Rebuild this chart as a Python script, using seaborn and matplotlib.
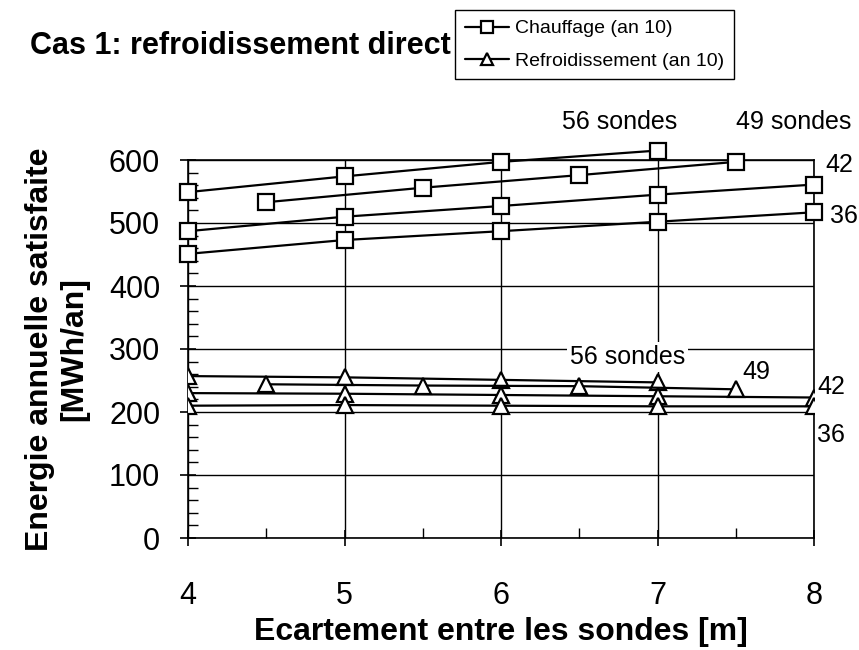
import numpy as np
import pandas as pd
import matplotlib
matplotlib.use("Agg")
import matplotlib.pyplot as plt
import seaborn as sns
from matplotlib.ticker import MultipleLocator

# spacing between probes [m] for each field size
x_56 = [4, 5, 6, 7]
x_49 = [4.5, 5.5, 6.5, 7.5]
x_42 = [4, 5, 6, 7, 8]
x_36 = [4, 5, 6, 7, 8]

# heating energy (year 10) [MWh/an]
heat_56 = [549, 574, 597, 615]
heat_49 = [533, 556, 576, 597]
heat_42 = [487, 510, 527, 545, 561]
heat_36 = [451, 473, 487, 502, 517]

# cooling energy (year 10) [MWh/an]
cool_56 = [257, 255, 251, 247]
cool_49 = [244, 242, 241, 236]
cool_42 = [230, 229, 227, 225, 223]
cool_36 = [210, 211, 210, 209, 209]

series = [("56", x_56, heat_56, cool_56),
          ("49", x_49, heat_49, cool_49),
          ("42", x_42, heat_42, cool_42),
          ("36", x_36, heat_36, cool_36)]

rows = []
for n, xs, hs, cs in series:
    for x, h, c in zip(xs, hs, cs):
        rows.append({"sondes": n, "x": x, "kind": "heat", "E": h})
        rows.append({"sondes": n, "x": x, "kind": "cool", "E": c})
df = pd.DataFrame(rows)

sns.set_theme(style="white")
plt.rcParams['font.family'] = ['Liberation Sans', 'DejaVu Sans']
plt.rcParams['text.color'] = 'black'
plt.rcParams['axes.labelcolor'] = 'black'

fig = plt.figure(figsize=(8.59, 6.5), dpi=100)
ax = fig.add_axes([188/859, 1-538/650, (814-188)/859, (538-160)/650])

for i, (n, _, _, _) in enumerate(series):
    sub = df[(df.sondes == n) & (df.kind == "heat")]
    sns.lineplot(data=sub, x="x", y="E", ax=ax, color="black", lw=1.6,
                 marker="s", markersize=11, markerfacecolor="white",
                 markeredgecolor="black", markeredgewidth=1.6,
                 label="Chauffage (an 10)" if i == 0 else None,
                 clip_on=False, zorder=5)
    sub = df[(df.sondes == n) & (df.kind == "cool")]
    sns.lineplot(data=sub, x="x", y="E", ax=ax, color="black", lw=1.6,
                 marker="^", markersize=11, markerfacecolor="white",
                 markeredgecolor="black", markeredgewidth=1.6,
                 label="Refroidissement (an 10)" if i == 0 else None,
                 zorder=5)

ax.set_xlim(4, 8)
ax.set_ylim(0, 600)
ax.xaxis.set_major_locator(MultipleLocator(1))
ax.xaxis.set_minor_locator(MultipleLocator(0.5))
ax.yaxis.set_major_locator(MultipleLocator(100))
ax.yaxis.set_minor_locator(MultipleLocator(20))
ax.grid(True, which="major", color="black", lw=1.0)
for s in ax.spines.values():
    s.set_color("black")
    s.set_linewidth(1.2)
ax.tick_params(axis="both", which="major", direction="inout", length=12,
               width=1.2, labelsize=22, colors="black")
ax.tick_params(axis="y", which="major", pad=14)
ax.tick_params(axis="x", which="major", pad=25)
ax.tick_params(axis="both", which="minor", direction="in", length=7,
               width=1.0, colors="black")
ax.tick_params(left=True, bottom=True, which="both")

ax.set_xlabel("Ecartement entre les sondes [m]", fontsize=23,
              fontweight="bold", labelpad=4)
ax.set_ylabel("Energie annuelle satisfaite\n[MWh/an]", fontsize=23,
              fontweight="bold", labelpad=14)

# field size labels
fs = 18
ax.text(6.76, 661, "56 sondes", fontsize=fs, ha="center", va="center", clip_on=False)
ax.text(7.87, 661, "49 sondes", fontsize=fs, ha="center", va="center", clip_on=False)
ax.text(8.07, 592, "42", fontsize=fs, ha="left", va="center", clip_on=False)
ax.text(8.10, 511, "36", fontsize=fs, ha="left", va="center", clip_on=False)
ax.text(6.81, 287, "56 sondes", fontsize=fs, ha="center", va="center", zorder=6,
        bbox=dict(facecolor="white", edgecolor="none", pad=2))
ax.text(7.63, 264, "49", fontsize=fs, ha="center", va="center", zorder=6)
ax.text(8.02, 239, "42", fontsize=fs, ha="left", va="center", clip_on=False)
ax.text(8.02, 164, "36", fontsize=fs, ha="left", va="center", clip_on=False)

fig.text(30/859, 1-46/650, "Cas 1: refroidissement direct", fontsize=22,
         fontweight="bold", ha="left", va="center")

h, l = ax.get_legend_handles_labels()
ax.get_legend().remove()
fig.legend(h, l, loc="upper left", bbox_to_anchor=(455/859, 1-10/650),
           borderaxespad=0, fontsize=14, frameon=True, fancybox=False,
           edgecolor="black", framealpha=1, handlelength=2.3,
           handletextpad=0.3, borderpad=0.5, labelspacing=0.75,
           markerscale=0.75)

fig.savefig("out.png", dpi=100)
